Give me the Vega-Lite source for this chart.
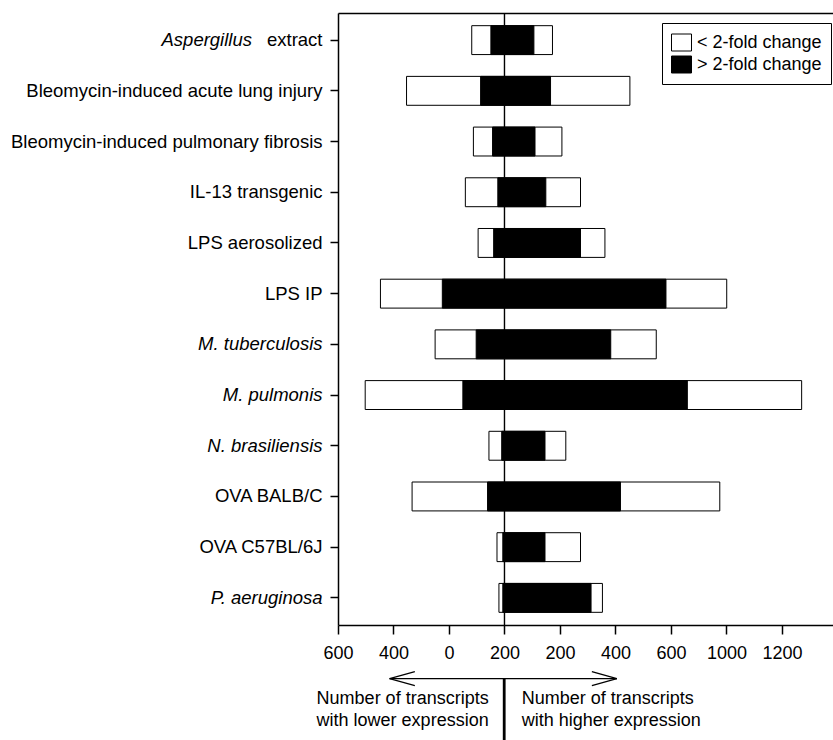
{
  "$schema": "https://vega.github.io/schema/vega-lite/v6.json",
  "padding": {"top": 12, "left": 0, "right": 0, "bottom": 0},
  "autosize": {"type": "pad"},
  "background": "white",
  "bounds": "flush",
  "spacing": 0,
  "config": {
    "font": "Liberation Sans",
    "view": {"stroke": null},
    "axis": {"grid": false, "domainColor": "black", "tickColor": "black", "labelColor": "black", "labelFontSize": 18, "domainWidth": 1.5, "tickWidth": 1.5}
  },
  "datasets": {
    "bars": [
      {"condition": "Aspergillus extract", "fold": "< 2-fold change", "start": -118, "end": 173},
      {"condition": "Bleomycin-induced acute lung injury", "fold": "< 2-fold change", "start": -353, "end": 452},
      {"condition": "Bleomycin-induced pulmonary fibrosis", "fold": "< 2-fold change", "start": -112, "end": 207},
      {"condition": "IL-13 transgenic", "fold": "< 2-fold change", "start": -141, "end": 274},
      {"condition": "LPS aerosolized", "fold": "< 2-fold change", "start": -95, "end": 362},
      {"condition": "LPS IP", "fold": "< 2-fold change", "start": -447, "end": 801},
      {"condition": "M. tuberculosis", "fold": "< 2-fold change", "start": -250, "end": 547},
      {"condition": "M. pulmonis", "fold": "< 2-fold change", "start": -502, "end": 1071},
      {"condition": "N. brasiliensis", "fold": "< 2-fold change", "start": -56, "end": 221},
      {"condition": "OVA BALB/C", "fold": "< 2-fold change", "start": -333, "end": 776},
      {"condition": "OVA C57BL/6J", "fold": "< 2-fold change", "start": -27, "end": 274},
      {"condition": "P. aeruginosa", "fold": "< 2-fold change", "start": -20, "end": 353},
      {"condition": "Aspergillus extract", "fold": "> 2-fold change", "start": -49, "end": 106},
      {"condition": "Bleomycin-induced acute lung injury", "fold": "> 2-fold change", "start": -86, "end": 166},
      {"condition": "Bleomycin-induced pulmonary fibrosis", "fold": "> 2-fold change", "start": -43, "end": 110},
      {"condition": "IL-13 transgenic", "fold": "> 2-fold change", "start": -24, "end": 149},
      {"condition": "LPS aerosolized", "fold": "> 2-fold change", "start": -39, "end": 274},
      {"condition": "LPS IP", "fold": "> 2-fold change", "start": -224, "end": 582},
      {"condition": "M. tuberculosis", "fold": "> 2-fold change", "start": -102, "end": 383},
      {"condition": "M. pulmonis", "fold": "> 2-fold change", "start": -150, "end": 659},
      {"condition": "N. brasiliensis", "fold": "> 2-fold change", "start": -10, "end": 146},
      {"condition": "OVA BALB/C", "fold": "> 2-fold change", "start": -61, "end": 418},
      {"condition": "OVA C57BL/6J", "fold": "> 2-fold change", "start": -6, "end": 146},
      {"condition": "P. aeruginosa", "fold": "> 2-fold change", "start": -6, "end": 312}
    ],
    "thinLines": [
      {"x": -414, "x2": 405, "y": 53.7, "y2": 53.7},
      {"x": -414, "x2": -323, "y": 53.7, "y2": 46.7},
      {"x": -414, "x2": -323, "y": 53.7, "y2": 60.7},
      {"x": 405, "x2": 315, "y": 53.7, "y2": 46.7},
      {"x": 405, "x2": 315, "y": 53.7, "y2": 60.7}
    ],
    "thickLines": [
      {"x": -1, "x2": -1, "y": 53.7, "y2": 116}
    ],
    "notesLeft": [
      {"x": -57, "y": 74, "text": "Number of transcripts"},
      {"x": -57, "y": 96, "text": "with lower expression"}
    ],
    "notesRight": [
      {"x": 62, "y": 74, "text": "Number of transcripts"},
      {"x": 62, "y": 96, "text": "with higher expression"}
    ]
  },
  "resolve": {"legend": {"fill": "independent"}},
  "vconcat": [
    {
      "width": 495,
      "height": 612,
      "layer": [
        {
          "data": {"values": [{"center": 0}]},
          "mark": {"type": "rule", "color": "black", "strokeWidth": 1.4},
          "encoding": {
            "x": {"field": "center", "type": "quantitative", "scale": {"domain": [-600, 1184], "nice": false},
                  "axis": {"orient": "top", "labels": false, "ticks": false, "title": null, "domainWidth": 1.5, "minExtent": 0, "maxExtent": 0}}
          }
        },
        {
          "data": {"name": "bars"},
          "mark": {"type": "bar", "stroke": "black", "strokeWidth": 1},
          "encoding": {
            "y": {
              "field": "condition", "type": "nominal",
              "scale": {"domain": ["Aspergillus extract", "Bleomycin-induced acute lung injury", "Bleomycin-induced pulmonary fibrosis", "IL-13 transgenic", "LPS aerosolized", "LPS IP", "M. tuberculosis", "M. pulmonis", "N. brasiliensis", "OVA BALB/C", "OVA C57BL/6J", "P. aeruginosa"], "paddingInner": 0.43, "paddingOuter": 0.25},
              "axis": {
                "title": null, "tickSize": 8, "labelPadding": 8, "labelFontSize": 18.5, "labelLimit": 500,
                "minExtent": 338, "maxExtent": 338,
                "labelExpr": "datum.value == 'Aspergillus extract' ? 'extract' : datum.value",
                "labelFontStyle": {"condition": {"test": "datum.value == 'M. tuberculosis' || datum.value == 'M. pulmonis' || datum.value == 'N. brasiliensis' || datum.value == 'P. aeruginosa'", "value": "italic"}, "value": "normal"}
              }
            },
            "x": {
              "field": "start", "type": "quantitative",
              "scale": {"domain": [-600, 1184], "nice": false},
              "axis": {
                "orient": "bottom", "title": null, "values": [-600, -400, -200, 0, 200, 400, 600, 800, 1000],
                "tickSize": 9, "labelPadding": 10, "labelFontSize": 18, "labelFlush": false, "labelOverlap": false,
                "labelExpr": "datum.value == -200 ? '0' : datum.value == 0 ? '200' : datum.value == 800 ? '1000' : datum.value == 1000 ? '1200' : format(abs(datum.value), 'd')"
              }
            },
            "x2": {"field": "end"},
            "fill": {
              "field": "fold", "type": "nominal",
              "scale": {"domain": ["< 2-fold change", "> 2-fold change"], "range": ["white", "black"]},
              "legend": {
                "orient": "none", "legendX": 324, "legendY": 10, "title": null,
                "strokeColor": "black", "padding": 9, "fillColor": "white",
                "symbolType": "M-1,-0.85L1,-0.85L1,0.85L-1,0.85Z", "symbolSize": 400, "symbolStrokeColor": "black", "symbolStrokeWidth": 1,
                "labelFontSize": 18, "labelColor": "black", "rowPadding": 1, "labelOffset": 5
              }
            }
          }
        },
        {
          "data": {"values": [{"condition": "Aspergillus extract", "label": "Aspergillus", "edge": -600}]},
          "mark": {"type": "text", "align": "right", "baseline": "middle", "fontStyle": "italic", "fontSize": 18.5, "dx": -86, "color": "black"},
          "encoding": {
            "x": {"field": "edge", "type": "quantitative", "axis": null},
            "y": {"field": "condition", "type": "nominal", "axis": null},
            "text": {"field": "label"}
          }
        }
      ],
      "resolve": {"axis": {"x": "independent", "y": "independent"}}
    },
    {
      "width": 495,
      "height": 116,
      "layer": [
        {
          "data": {"name": "thinLines"},
          "mark": {"type": "rule", "color": "black", "strokeWidth": 1.2},
          "encoding": {
            "x": {"field": "x", "type": "quantitative", "scale": {"domain": [-600, 1184], "nice": false}, "axis": null},
            "x2": {"field": "x2"},
            "y": {"field": "y", "type": "quantitative", "scale": {"domain": [0, 116], "nice": false, "zero": false, "reverse": true}, "axis": null},
            "y2": {"field": "y2"}
          }
        },
        {
          "data": {"name": "thickLines"},
          "mark": {"type": "rule", "color": "black", "strokeWidth": 2.8},
          "encoding": {
            "x": {"field": "x", "type": "quantitative", "axis": null},
            "x2": {"field": "x2"},
            "y": {"field": "y", "type": "quantitative", "axis": null},
            "y2": {"field": "y2"}
          }
        },
        {
          "data": {"name": "notesLeft"},
          "mark": {"type": "text", "baseline": "middle", "align": "right", "fontSize": 18, "color": "black"},
          "encoding": {
            "x": {"field": "x", "type": "quantitative", "axis": null},
            "y": {"field": "y", "type": "quantitative", "axis": null},
            "text": {"field": "text"}
          }
        },
        {
          "data": {"name": "notesRight"},
          "mark": {"type": "text", "baseline": "middle", "align": "left", "fontSize": 18, "color": "black"},
          "encoding": {
            "x": {"field": "x", "type": "quantitative", "axis": null},
            "y": {"field": "y", "type": "quantitative", "axis": null},
            "text": {"field": "text"}
          }
        }
      ]
    }
  ]
}
